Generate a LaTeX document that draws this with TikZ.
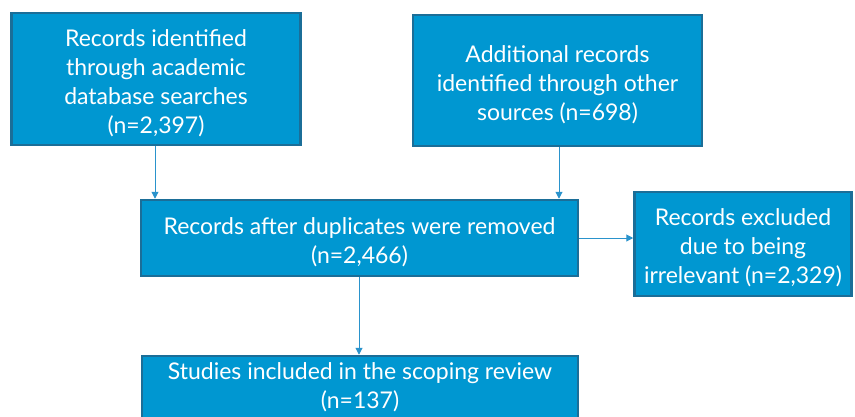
\documentclass[tikz,border=0pt]{standalone}
\usepackage{fontspec}
\setmainfont{Lato}
\usetikzlibrary{arrows.meta}
\definecolor{boxfill}{HTML}{0097D1}
\definecolor{boxedge}{HTML}{1B6E98}
\definecolor{arrcol}{HTML}{2A93CC}
\begin{document}
\begin{tikzpicture}[x=1pt,y=-1pt,
  box/.style={draw=boxedge,line width=2.5pt,fill=boxfill,inner sep=0pt},
  txt/.style={text=white,align=center,inner sep=0pt,yshift=-4pt,
    font=\fontsize{23}{29}\selectfont},
  arr/.style={draw=arrcol,line width=1pt,-{Triangle[length=7pt,width=7pt]}}]
\useasboundingbox (0,0) rectangle (855,416);
\clip (0,0) rectangle (855,416);
\node[box,minimum width=289pt,minimum height=132pt,
  label={[txt]center:Records identified\\through academic\\database searches\\(n=2,397)}] (b1) at (156,79) {};
\node[box,minimum width=289pt,minimum height=131pt,
  label={[txt]center:Additional records\\identified through other\\sources (n=698)}] (b2) at (557.5,80.5) {};
\node[box,minimum width=437pt,minimum height=76pt,
  label={[txt]center:Records after duplicates were removed\\(n=2,466)}] (b3) at (359.5,238) {};
\node[box,minimum width=217pt,minimum height=104pt,
  label={[txt]center:Records excluded\\due to being\\irrelevant (n=2,329)}] (b4) at (743,244) {};
\node[box,minimum width=436pt,minimum height=68pt,
  label={[txt,yshift=7pt]center:Studies included in the scoping review\\(n=137)}] (b5) at (360,390) {};
\draw[arr] (b1.south -| 155,0) -- (b3.north -| 155,0);
\draw[arr] (b2.south -| 559,0) -- (b3.north -| 559,0);
\draw[arr] (b3.east |- 0,238) -- (b4.west |- 0,238);
\draw[arr] (b3.south -| 359,0) -- (b5.north -| 359,0);
\end{tikzpicture}
\end{document}
